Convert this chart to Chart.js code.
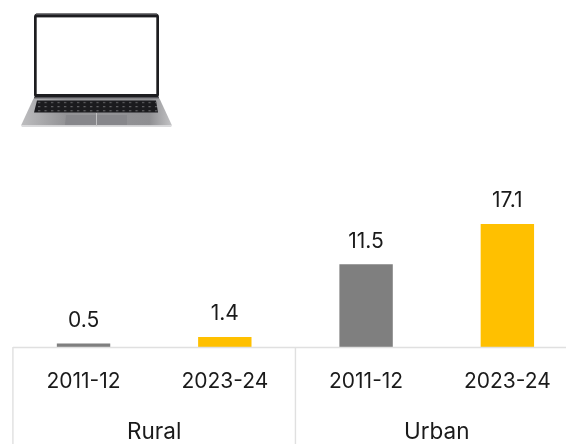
<!DOCTYPE html>
<html><head><meta charset="utf-8">
<script src="https://cdn.jsdelivr.net/npm/chart.js@4"></script>
<style>
html,body{margin:0;padding:0;background:#fff;width:566px;height:444px;overflow:hidden;position:relative}
#c{position:absolute;left:0;top:0}
#wrap{position:absolute;left:0;top:0;width:578px;height:460px}
svg{position:absolute;left:0;top:0;filter:blur(.3px)}
</style></head><body>
<div id="wrap"><canvas id="c" width="578" height="460"></canvas></div>
<svg width="200" height="140" viewBox="0 0 200 140">
<defs>
<linearGradient id="base" x1="0" x2="1" y1="0" y2="0">
<stop offset="0" stop-color="#bdbdbf"/><stop offset=".3" stop-color="#929295"/><stop offset=".6" stop-color="#939396"/><stop offset=".85" stop-color="#8f8f92"/><stop offset="1" stop-color="#c4c4c6"/></linearGradient>
<pattern id="keys" width="6.5" height="4.2" patternUnits="userSpaceOnUse" x="37" y="101"><rect x="1" y="1" width="2.2" height=".9" fill="#77777a"/></pattern>
</defs>
<rect x="34" y="13.5" width="125" height="84.5" rx="3.5" fill="#1d1d20"/>
<rect x="36" y="13.3" width="121" height="1.2" fill="#77777a"/>
<rect x="36.7" y="17.4" width="119.6" height="76.6" fill="#fff"/>
<polygon points="33.5,98.5 159.5,98.5 172,125.5 21,125.5" fill="url(#base)"/>
<polygon points="21,125.5 172,125.5 171,127 22,127" fill="#dadadc"/>
<rect x="34" y="97" width="125" height="1.6" fill="#55555a"/>
<polygon points="66,115 127,115 127,125 65,125" fill="#87878b"/>
<rect x="96" y="113" width="1" height="12.5" fill="#c0c0c2"/>
<polygon points="37,100.5 156,100.5 158,112.5 34,112.5" fill="#1b1b1e"/>
<polygon points="37,100.5 156,100.5 158,112.5 34,112.5" fill="url(#keys)"/>
</svg>
<script>
const groups = ["Rural", "Urban"];
const periods = ["2011-12", "2023-24", "2011-12", "2023-24"];
const values = [0.5, 1.4, 11.5, 17.1];
const barColors = ["#7F7F7F", "#FFC000", "#7F7F7F", "#FFC000"];
const fontFamily = "Inter, sans-serif";
const lineColor = "#E0E0E0";
const textColor = "#1a1a1a";

const decor = {
  id: "decor",
  afterDraw(chart) {
    const { ctx, chartArea: a, scales } = chart;
    const x = scales.x, y = scales.y;
    const step = x.getPixelForValue(1) - x.getPixelForValue(0);
    const left = x.getPixelForValue(0) - step / 2;
    const mid = x.getPixelForValue(1) + step / 2;
    ctx.save();
    ctx.strokeStyle = lineColor;
    ctx.lineWidth = 1.4;
    ctx.beginPath();
    ctx.moveTo(left, a.bottom + .5); ctx.lineTo(chart.width, a.bottom + .5);
    ctx.moveTo(left, a.bottom); ctx.lineTo(left, chart.height);
    ctx.moveTo(mid, a.bottom); ctx.lineTo(mid, chart.height);
    ctx.stroke();
    ctx.fillStyle = textColor;
    ctx.font = "21px " + fontFamily;
    ctx.textAlign = "center";
    ctx.textBaseline = "alphabetic";
    values.forEach((v, i) => {
      ctx.fillText(v.toFixed(1), x.getPixelForValue(i), y.getPixelForValue(v) - 16.5);
    });
    ctx.restore();
  }
};

new Chart(document.getElementById("c"), {
  type: "bar",
  data: {
    labels: periods,
    datasets: [{ data: values, backgroundColor: barColors, barPercentage: 0.378, categoryPercentage: 1 }]
  },
  options: {
    responsive: false,
    animation: false,
    layout: { padding: { left: 12.9, right: 0, top: 59, bottom: 0 } },
    plugins: { legend: { display: false }, tooltip: { enabled: false } },
    scales: {
      y: { display: false, min: 0, max: 40 },
      x: {
        position: "bottom",
        offset: true,
        grid: { display: false, drawTicks: false },
        border: { display: false },
        ticks: { color: textColor, font: { family: fontFamily, size: 21 }, padding: 22.5, maxRotation: 0, autoSkip: false },
        afterFit(s) { s.height = 59; }
      },
      x2: {
        type: "category",
        labels: groups,
        position: "bottom",
        offset: true,
        grid: { display: false, drawTicks: false },
        border: { display: false },
        ticks: { color: textColor, font: { family: fontFamily, size: 22.5 }, padding: 13, maxRotation: 0, autoSkip: false },
        afterFit(s) { s.height = 54; }
      }
    }
  },
  plugins: [decor]
});
</script>
</body></html>
